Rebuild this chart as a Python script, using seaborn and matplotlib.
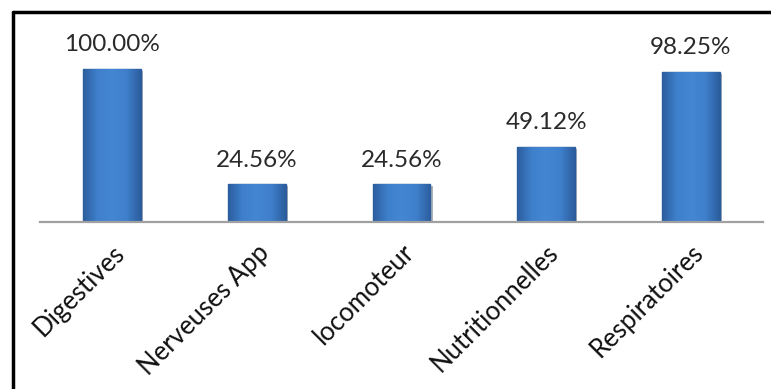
import matplotlib
matplotlib.use("Agg")
import matplotlib.pyplot as plt
import matplotlib.patheffects as pe
from matplotlib.lines import Line2D
from matplotlib.colors import LinearSegmentedColormap
import numpy as np
import seaborn as sns
import pandas as pd

categories = ["Digestives", "Nerveuses App", "locomoteur", "Nutritionnelles", "Respiratoires"]
values = [100.00, 24.56, 24.56, 49.12, 98.25]
value_labels = ["100.00%", "24.56%", "24.56%", "49.12%", "98.25%"]

df = pd.DataFrame({"categorie": categories, "pourcentage": values})

sns.set_theme(style="white")
plt.rcParams["font.family"] = ["Lato", "DejaVu Sans"]

fig = plt.figure(figsize=(7.71, 3.89), dpi=100)
ax = fig.add_axes([0.0519, 0.4293, 0.9377, 0.433])

sns.barplot(data=df, x="categorie", y="pourcentage", ax=ax,
            color="#3C7CC6", width=0.40, edgecolor="#2A5C9C", linewidth=1.0,
            saturation=1)

# bevelled look: horizontal shading clipped to each bar
shade = LinearSegmentedColormap.from_list(
    "bevel", ["#2C5E9E", "#3F80CC", "#4586D2", "#3F80CC", "#2C5E9E"])
grad = np.linspace(0, 1, 64).reshape(1, -1)
for patch in list(ax.patches):
    x0, y0 = patch.get_x(), patch.get_y()
    w, h = patch.get_width(), patch.get_height()
    im = ax.imshow(grad, cmap=shade, aspect="auto", extent=(x0, x0 + w, y0, y0 + h),
                   zorder=patch.get_zorder() + 0.1, interpolation="bicubic")
    im.set_clip_path(patch)
    patch.set_path_effects([pe.SimplePatchShadow(offset=(1.5, -1.5), alpha=0.35),
                            pe.Normal()])

for i, (v, lab) in enumerate(zip(values, value_labels)):
    ax.annotate(lab, (i, v), xytext=(0, 10), textcoords="offset points",
                ha="center", va="bottom", fontsize=17.5, color="#2A2A2A")

ax.set_xlim(-0.5, len(categories) - 0.5)
ax.set_ylim(0, 110)
ax.set_xlabel("")
ax.set_ylabel("")
ax.set_yticks([])
for side in ["top", "right", "left"]:
    ax.spines[side].set_visible(False)
ax.spines["bottom"].set_color("#A0A0A0")
ax.spines["bottom"].set_linewidth(1.6)
ax.spines["bottom"].set_zorder(5)
ax.tick_params(axis="x", length=0, pad=13)
plt.setp(ax.get_xticklabels(), rotation=45, ha="right", rotation_mode="anchor",
         fontsize=18.5, color="#111111")

# outer frame (top and left edges)
fig.add_artist(Line2D([0.0165, 1.0], [0.9691, 0.9691], transform=fig.transFigure,
                      color="black", linewidth=2.5))
fig.add_artist(Line2D([0.0165, 0.0165], [0.0, 0.9691], transform=fig.transFigure,
                      color="black", linewidth=2.5))

fig.savefig("out.png", dpi=100)
